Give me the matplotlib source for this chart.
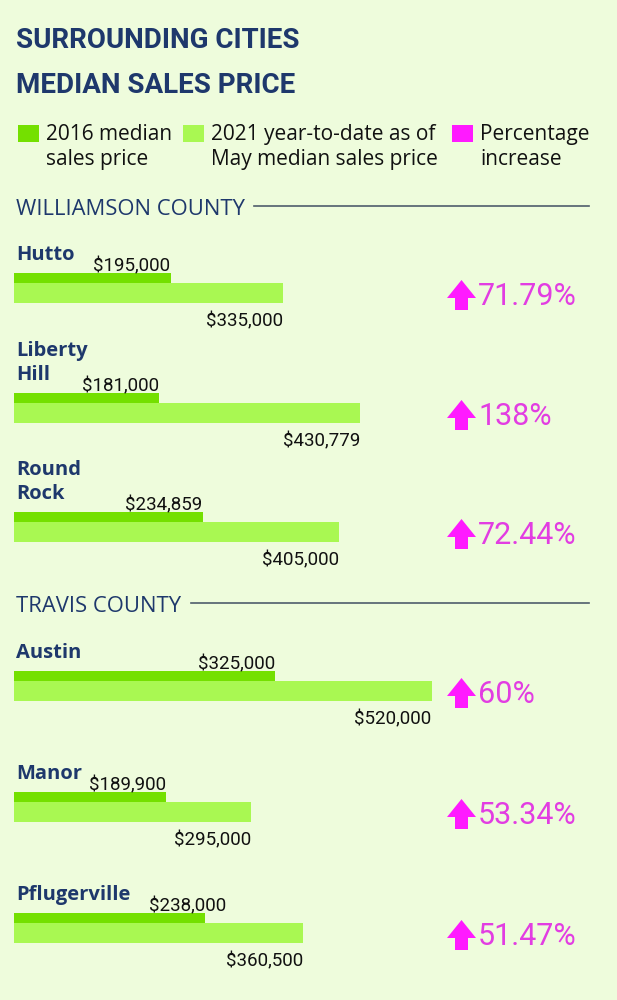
import matplotlib
matplotlib.use("Agg")
import matplotlib.pyplot as plt
from matplotlib.patches import Rectangle, FancyArrow

# ---- data ----
cities = ["Hutto", "Liberty\nHill", "Round\nRock", "Austin", "Manor", "Pflugerville"]
price_2016 = [195000, 181000, 234859, 325000, 189900, 238000]
price_2021 = [335000, 430779, 405000, 520000, 295000, 360500]
pct_increase = [71.79, 138, 72.44, 60, 53.34, 51.47]
counties = ["WILLIAMSON COUNTY", "TRAVIS COUNTY"]
legend_labels = ["2016 median\nsales price",
                 "2021 year-to-date as of\nMay median sales price",
                 "Percentage\nincrease"]

# ---- style / layout ----
BG = "#eefcdc"
DARK = "#74e000"
LIGHT = "#a9f852"
MAGENTA = "#ff1aff"
PCT_COL = "#e23de2"
NAVY = "#1e386c"
RULE = "#4f5d6c"
NARROW = ["Roboto", "DejaVu Sans"]
SANS = ["Open Sans", "DejaVu Sans"]

W, H = 617, 1000
row_top = [273, 393, 512, 671, 792, 913]      # top of dark bar, px
label_nudge = [0, 0, 0, 0, 0, 21]             # px shift of the 2016 label (avoid the name)
county_y = [207, 604]
county_rule_x0 = [254, 191]
X0 = 14                                        # px where $0 sits
PX_PER_DOLLAR = 269 / 335000

fig = plt.figure(figsize=(W / 100, H / 100), dpi=100, facecolor=BG)
lay = fig.add_axes([0, 0, 1, 1])
lay.set_xlim(0, W); lay.set_ylim(H, 0); lay.axis("off")
ax = fig.add_axes([0, 0, 1, 1])
ax.set_xlim(-X0 / PX_PER_DOLLAR, (W - X0) / PX_PER_DOLLAR)
ax.set_ylim(H, 0); ax.axis("off")
ax.patch.set_alpha(0)

# title
lay.text(16, 48, "SURROUNDING CITIES", fontsize=20, fontweight="bold",
         family=NARROW, color=NAVY, va="baseline")
lay.text(16, 93, "MEDIAN SALES PRICE", fontsize=20, fontweight="bold",
         family=NARROW, color=NAVY, va="baseline")

# legend
for (sx, tx), col, lab in zip([(18, 46), (183, 211), (452, 480)],
                              [DARK, LIGHT, MAGENTA], legend_labels):
    lay.add_patch(Rectangle((sx, 125), 21, 17, color=col, lw=0))
    for k, line in enumerate(lab.split("\n")):
        lay.text(tx, 140 + 25 * k, line, fontsize=15, family=SANS,
                 color="#111111", va="baseline")

# county headers
for name, y, x0 in zip(counties, county_y, county_rule_x0):
    lay.text(16, y + 8, name, fontsize=15.8, family=SANS, color=NAVY, va="baseline")
    lay.plot([x0, 589], [y - 1, y - 1], color=RULE, lw=1.2)

# rows
for city, v16, v21, pct, T, dx in zip(cities, price_2016, price_2021,
                                      pct_increase, row_top, label_nudge):
    ax.barh(T + 5, v16, height=10, color=DARK, lw=0)
    ax.barh(T + 20, v21, height=20, color=LIGHT, lw=0)
    ax.text(v16 + dx / PX_PER_DOLLAR, T - 2, f"${v16:,}", ha="right", va="baseline",
            fontsize=13.5, family=NARROW, color="#111111")
    ax.text(v21, T + 53, f"${v21:,}", ha="right", va="baseline",
            fontsize=13.5, family=NARROW, color="#111111")
    lines = city.split("\n")
    for k, line in enumerate(reversed(lines)):
        lay.text(16, T - 13 - 24 * k, line, fontsize=14.5, fontweight="bold",
                 family=SANS, color=NAVY, va="baseline")
    lay.add_patch(FancyArrow(461.5, T + 37, 0, -30, width=13, head_width=29,
                             head_length=18, length_includes_head=True,
                             color=MAGENTA, lw=0))
    lay.text(478, T + 32, f"{pct:g}%", fontsize=22, family=NARROW,
             color=PCT_COL, va="baseline")

fig.savefig("out.png", dpi=100, facecolor=BG)
